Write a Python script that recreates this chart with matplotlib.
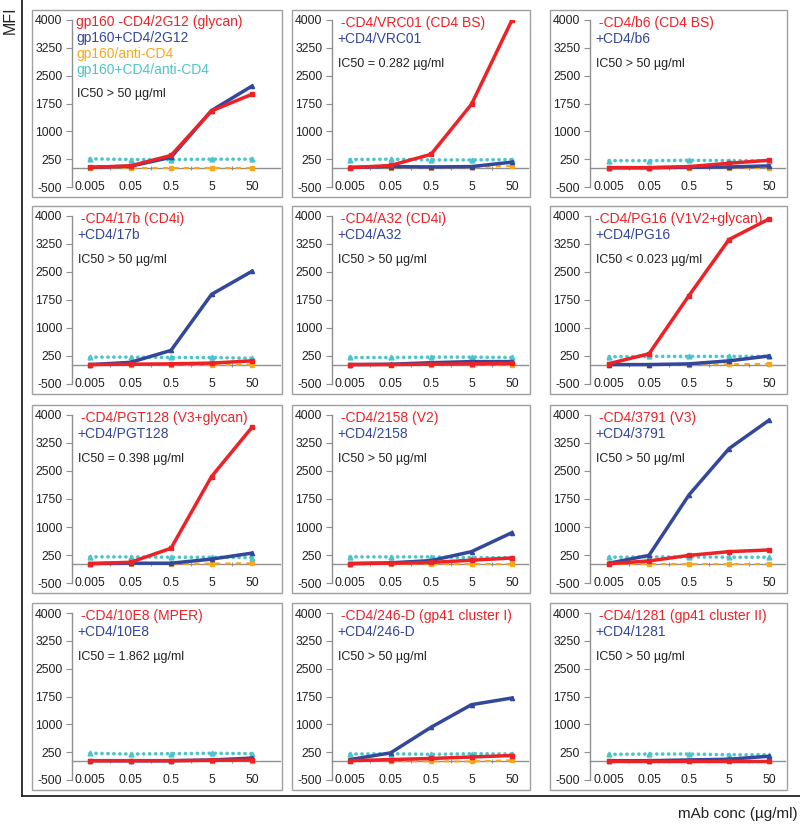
import numpy as np
import matplotlib
matplotlib.use("Agg")
import matplotlib.pyplot as plt
from matplotlib.patches import Rectangle
from matplotlib.lines import Line2D

plt.rcParams['font.family'] = ['Liberation Sans', 'DejaVu Sans']
plt.rcParams['axes.unicode_minus'] = False

concs = ["0.005", "0.05", "0.5", "5", "50"]
yticks = [-500, 250, 1000, 1750, 2500, 3250, 4000]

red_labels = ["gp160 -CD4/2G12 (glycan)", " -CD4/VRC01 (CD4 BS)", " -CD4/b6 (CD4 BS)",
              " -CD4/17b (CD4i)", " -CD4/A32 (CD4i)", "-CD4/PG16 (V1V2+glycan)",
              " -CD4/PGT128 (V3+glycan)", " -CD4/2158 (V2)", " -CD4/3791 (V3)",
              " -CD4/10E8 (MPER)", " -CD4/246-D (gp41 cluster I)", " -CD4/1281 (gp41 cluster II)"]
blue_labels = ["gp160+CD4/2G12", "+CD4/VRC01", "+CD4/b6", "+CD4/17b", "+CD4/A32", "+CD4/PG16",
               "+CD4/PGT128", "+CD4/2158", "+CD4/3791", "+CD4/10E8", "+CD4/246-D", "+CD4/1281"]
ic50_labels = ["IC50 > 50 \u00b5g/ml", "IC50 = 0.282 \u00b5g/ml", "IC50 > 50 \u00b5g/ml",
               "IC50 > 50 \u00b5g/ml", "IC50 > 50 \u00b5g/ml", "IC50 < 0.023 \u00b5g/ml",
               "IC50 = 0.398 \u00b5g/ml", "IC50 > 50 \u00b5g/ml", "IC50 > 50 \u00b5g/ml",
               "IC50 = 1.862 \u00b5g/ml", "IC50 > 50 \u00b5g/ml", "IC50 > 50 \u00b5g/ml"]
orange_label = "gp160/anti-CD4"
cyan_label = "gp160+CD4/anti-CD4"

# MFI values: gp160 -CD4 + mAb (red)
red_vals = [
    [30, 70, 350, 1550, 2000],
    [20, 80, 380, 1730, 4000],
    [20, 20, 50, 140, 220],
    [20, 30, 40, 60, 120],
    [20, 20, 30, 40, 50],
    [45, 310, 1870, 3370, 3920],
    [20, 55, 430, 2350, 3670],
    [20, 30, 50, 110, 170],
    [20, 90, 240, 340, 385],
    [20, 20, 20, 30, 40],
    [20, 50, 80, 120, 160],
    [20, 20, 20, 20, 20],
]
# gp160 +CD4 + mAb (blue)
blue_vals = [
    [30, 60, 300, 1560, 2220],
    [30, 50, 40, 50, 170],
    [20, 20, 30, 40, 70],
    [20, 80, 400, 1900, 2520],
    [20, 30, 70, 100, 100],
    [20, 20, 40, 120, 250],
    [20, 30, 30, 140, 300],
    [20, 40, 100, 340, 850],
    [30, 240, 1860, 3100, 3860],
    [20, 20, 20, 40, 90],
    [50, 230, 920, 1530, 1710],
    [20, 20, 40, 60, 140],
]
# gp160 / anti-CD4 (orange)
orange_vals = [
    [20, 20, 20, 20, 20],
    [20, 20, 20, 30, 70],
    [10, 10, 10, 10, 10],
    [10, 10, 10, 10, 20],
    [10, 10, 10, 10, 10],
    [10, 10, 10, 30, 40],
    [10, 10, 10, 20, 30],
    [10, 10, 10, 10, 10],
    [10, 10, 10, 10, 10],
    [10, 10, 10, 10, 10],
    [10, 10, 0, 0, 30],
    [10, 10, 10, 10, 10],
]
# gp160 +CD4 / anti-CD4 (cyan)
cyan_vals = [
    [260, 240, 240, 250, 250],
    [240, 250, 230, 230, 240],
    [210, 210, 220, 210, 210],
    [220, 220, 210, 210, 190],
    [210, 210, 220, 220, 210],
    [230, 240, 240, 240, 240],
    [200, 200, 190, 190, 180],
    [200, 200, 200, 180, 180],
    [190, 200, 200, 190, 190],
    [220, 200, 210, 220, 210],
    [200, 210, 190, 210, 200],
    [190, 200, 200, 180, 180],
]

RED = "#EC2227"
BLUE = "#33479C"
ORANGE = "#F6A81C"
CYAN = "#4DC4CC"
GREY = "#8f8f8f"

W, H = 800, 824
fig = plt.figure(figsize=(W / 100, H / 100), dpi=100)

def fx(px):
    return px / W

def fy(py):
    return 1 - py / H

# column geometry in pixels: spine, first cat, last cat, axis right, box right
cols = [(72, 90, 252, 280, 282), (332, 350, 512, 528, 530), (590, 609, 769, 785, 787)]
rows = [(20, 187), (216, 384), (415, 583), (613, 780)]

x = np.arange(len(concs))
for r, (ytop, ybot) in enumerate(rows):
    for c, (sp, c0, c4, axr, boxr) in enumerate(cols):
        i = r * 3 + c
        # panel box
        fig.add_artist(Rectangle((fx(sp - 40), fy(ybot + 10)), fx(boxr) - fx(sp - 40),
                                 (ybot + 10 - (ytop - 10)) / H, transform=fig.transFigure,
                                 fill=False, ec="#a0a0a0", lw=1.0))
        ax = fig.add_axes([fx(sp), fy(ybot), fx(axr) - fx(sp), (ybot - ytop) / H])
        unit = (c4 - c0) / 4
        ax.set_xlim(-(c0 - sp) / unit, 4 + (axr - c4) / unit)
        ax.set_ylim(-500, 4000)
        ax.patch.set_alpha(0)

        ax.plot(x, orange_vals[i], color=ORANGE, lw=1.5, ls=(0, (2.5, 2.5)),
                marker='s', ms=3, zorder=3)
        ax.plot(x, cyan_vals[i], color=CYAN, lw=2.6, ls=(0, (0.05, 1.6)),
                dash_capstyle='round', marker='^', ms=3.5, zorder=4)
        ax.plot(x, blue_vals[i], color=BLUE, lw=2.5, marker='^', ms=3, zorder=5)
        ax.plot(x, red_vals[i], color=RED, lw=2.5, marker='s', ms=3, zorder=6)

        for s in ['top', 'right']:
            ax.spines[s].set_visible(False)
        ax.spines['left'].set_color(GREY)
        ax.spines['left'].set_linewidth(1.0)
        ax.spines['bottom'].set_position(('data', 0))
        ax.spines['bottom'].set_color(GREY)
        ax.spines['bottom'].set_linewidth(1.0)
        ax.set_xticks(np.arange(0.5, 4, 1))
        ax.tick_params(axis='x', length=3, direction='inout', color=GREY, labelbottom=False)
        ax.set_yticks(yticks)
        ax.tick_params(axis='y', length=4, color=GREY, labelsize=8.8, labelcolor="#222222", pad=3)

        sec = ax.secondary_xaxis(0.035)
        sec.set_xticks(x, labels=concs)
        sec.tick_params(length=0, pad=0, labelsize=8.8, labelcolor="#222222")
        sec.spines['bottom'].set_visible(False)

        def lab(txt, dx, dy, col, fs=10):
            ax.annotate(txt, xy=(0, 1), xycoords='axes fraction',
                        xytext=(dx * 0.72, -dy * 0.72), textcoords='offset points',
                        ha='left', va='center', color=col, fontsize=fs, zorder=10)

        if i == 0:
            lab(red_labels[i], 4, 2, RED)
            lab(blue_labels[i], 4, 18, BLUE)
            lab(orange_label, 4, 34, ORANGE)
            lab(cyan_label, 4, 50, CYAN)
            lab(ic50_labels[i], 5, 74, "#222222", 9)
        else:
            lab(red_labels[i], 5, 3, RED)
            lab(blue_labels[i], 5, 19, BLUE)
            lab(ic50_labels[i], 6, 44, "#222222", 9)

# outer L-frame
fig.add_artist(Line2D([fx(22), fx(22)], [fy(0), fy(796)], transform=fig.transFigure,
                      color="#222222", lw=1.3))
fig.add_artist(Line2D([fx(22), fx(800)], [fy(796), fy(796)], transform=fig.transFigure,
                      color="#222222", lw=1.3))
fig.text(fx(10), fy(20), "MFI", rotation=90, ha='center', va='center', fontsize=11.5, color="#222222")
fig.text(fx(798), fy(814), "mAb conc (\u00b5g/ml)", ha='right', va='center', fontsize=11,
         color="#222222")

fig.savefig("out.png", dpi=100)
